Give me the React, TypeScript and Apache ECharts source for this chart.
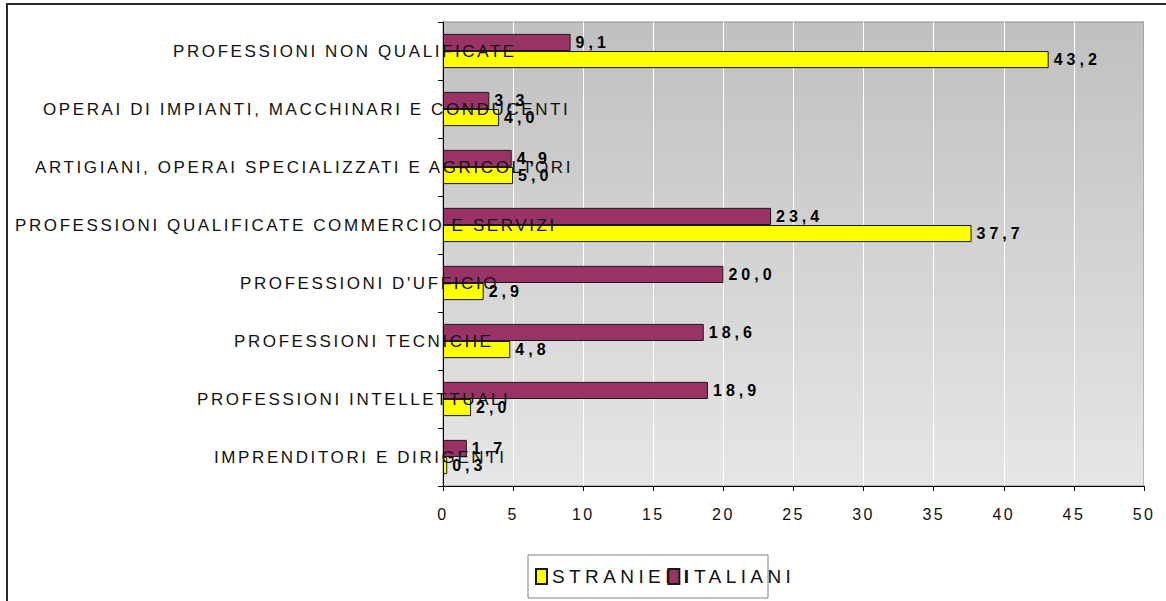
import React, { useEffect, useRef } from 'react';
import * as echarts from 'echarts';

// Categories listed bottom -> top
const categories = [
  'IMPRENDITORI E DIRIGENTI',
  'PROFESSIONI INTELLETTUALI',
  'PROFESSIONI TECNICHE',
  "PROFESSIONI D'UFFICIO",
  'PROFESSIONI QUALIFICATE COMMERCIO E SERVIZI',
  'ARTIGIANI, OPERAI SPECIALIZZATI E AGRICOLTORI',
  'OPERAI DI IMPIANTI, MACCHINARI E CONDUCENTI',
  'PROFESSIONI NON QUALIFICATE',
];
const stranieri = [0.3, 2.0, 4.8, 2.9, 37.7, 5.0, 4.0, 43.2];
const italiani = [1.7, 18.9, 18.6, 20.0, 23.4, 4.9, 3.3, 9.1];
const seriesNames = ['STRANIERI', 'ITALIANI'];
const xMin = 0;
const xMax = 50;
const xStep = 5;

// label start x (px) of each category label, same order as categories (style only)
const labelStartX = [214, 197, 234, 240, 15, 35, 43, 173];

const FONT = "'Liberation Sans', Arial, sans-serif";
const YELLOW = '#ffff00';
const MAROON = '#993366';

const css = `
.chartbox svg text[style*="17px"] { letter-spacing: 2.6px; }
.chartbox svg text[style*="16px"] { letter-spacing: 2.4px; }
.chartbox svg text[style*="bold"] { letter-spacing: 4px; }
.chartbox svg text[style*="19px"] { letter-spacing: 4.4px; }
`;

export default function App() {
  const ref = useRef<HTMLDivElement>(null);
  useEffect(() => {
    if (!ref.current) return;
    const chart = echarts.init(ref.current, null, { renderer: 'svg' });
    const gridLeft = 443;
    const labelBase = 15;
    const fmt = (p: any) => Number(p.value).toFixed(1).replace('.', ',');
    const barLabel = {
      show: true,
      position: 'right',
      distance: 5,
      formatter: fmt,
      fontSize: 16,
      fontWeight: 'bold',
      color: '#000',
      fontFamily: FONT,
    };
    chart.setOption({
      animation: false,
      backgroundColor: '#ffffff',
      textStyle: { fontFamily: FONT },
      grid: {
        left: gridLeft,
        top: 22,
        width: 701,
        height: 464,
        outerBoundsMode: 'none',
        containLabel: false,
        show: true,
        borderColor: '#8c8c8c',
        borderWidth: 1,
        backgroundColor: new echarts.graphic.LinearGradient(0, 0, 0, 1, [
          { offset: 0, color: '#c0c0c0' },
          { offset: 1, color: '#e6e6e6' },
        ]),
      },
      legend: {
        data: seriesNames,
        left: 528,
        top: 555,
        orient: 'horizontal',
        itemWidth: 11,
        itemHeight: 15,
        itemGap: 14,
        padding: [12, 8, 12, 7],
        borderColor: '#808080',
        borderWidth: 1,
        backgroundColor: '#ffffff',
        textStyle: { fontSize: 19, color: '#111', fontFamily: FONT },
        icon: 'rect',
      },
      xAxis: {
        type: 'value',
        min: xMin,
        max: xMax,
        interval: xStep,
        axisLine: { show: true, lineStyle: { color: '#000', width: 1 } },
        axisTick: { show: true, length: 5, lineStyle: { color: '#000' } },
        axisLabel: { fontSize: 16, color: '#111', margin: 20, fontFamily: FONT },
        splitLine: { show: true, lineStyle: { color: '#ffffff', width: 1 } },
      },
      yAxis: {
        type: 'category',
        z: 10,
        data: categories.map((c, i) => ({
          value: c,
          textStyle: {
            align: 'left',
            padding: [0, 0, 0, labelStartX[i] - labelBase],
            fontSize: 17,
            color: '#111',
            fontFamily: FONT,
          },
        })),
        axisLine: { show: true, lineStyle: { color: '#000', width: 1 } },
        axisTick: { show: true, length: 5, inside: false, lineStyle: { color: '#000' } },
        axisLabel: {
          interval: 0,
          fontSize: 17,
          color: '#111',
          align: 'left',
          margin: gridLeft - labelBase,
          fontFamily: FONT,
        },
        splitLine: { show: false },
      },
      series: [
        {
          name: seriesNames[1],
          type: 'bar',
          data: italiani,
          barGap: '0%',
          barCategoryGap: '41%',
          itemStyle: { color: MAROON, borderColor: '#1a1a1a', borderWidth: 1 },
          label: barLabel,
          z: 3,
        },
        {
          name: seriesNames[0],
          type: 'bar',
          data: stranieri,
          barGap: '0%',
          barCategoryGap: '41%',
          itemStyle: { color: YELLOW, borderColor: '#1a1a1a', borderWidth: 1 },
          label: barLabel,
          z: 3,
        },
      ],
      graphic: [
        { type: 'line', shape: { x1: 6, y1: 4, x2: 1166, y2: 4 }, style: { stroke: '#2a2a2a', lineWidth: 2 }, silent: true },
        { type: 'line', shape: { x1: 7, y1: 3, x2: 7, y2: 601 }, style: { stroke: '#2a2a2a', lineWidth: 2 }, silent: true },
      ],
    });
    return () => chart.dispose();
  }, []);
  return (
    <>
      <style>{css}</style>
      <div
        className="chartbox"
        ref={ref}
        style={{ position: 'fixed', left: 0, top: 0, width: 1166, height: 601 }}
      />
    </>
  );
}
